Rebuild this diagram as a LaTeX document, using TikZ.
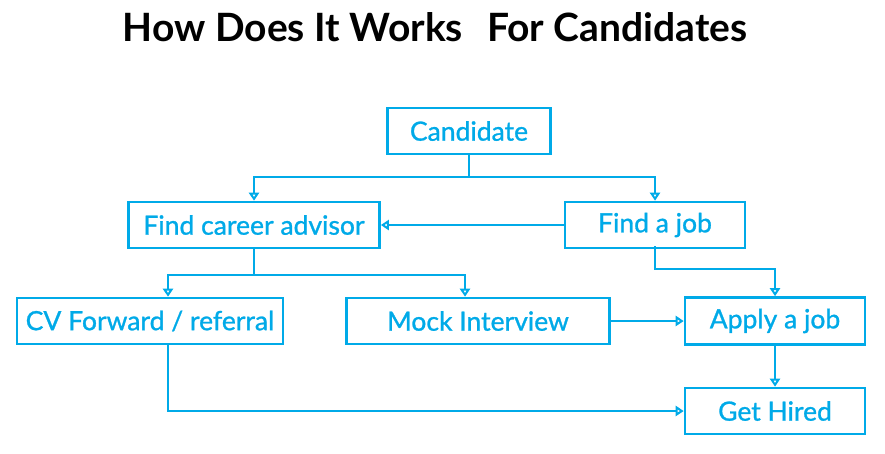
\documentclass[tikz,border=0pt]{standalone}
\usepackage{fontspec}
\setmainfont{Lato}
\newfontfamily\boxfont[FakeBold=1]{Lato}
\usetikzlibrary{arrows.meta}
\definecolor{hb}{RGB}{0,170,232}
\begin{document}
\begin{tikzpicture}[x=1pt,y=-1pt,
  box/.style={draw=hb, line width=2.6pt, text=hb, font=\boxfont\fontsize{26.5}{30}\selectfont, inner sep=0pt, minimum height=46pt, fill=white},
  conn/.style={draw=hb, line width=2pt, -{Triangle[open,length=8pt,width=10pt]}}]
\useasboundingbox[fill=white] (0,0) rectangle (885,453);
\node[font=\fontsize{39}{44}\selectfont\bfseries] (title) at (435,27) {How Does It Works\hspace{24pt}For Candidates};
\node[box, minimum width=163pt] (cand) at (469,131) {Candidate};
\node[box, minimum width=251pt] (fca) at (254,225) {Find career advisor};
\node[box, minimum width=180pt] (fj) at (655,225) {Find a job};
\node[box, minimum width=266pt] (cv) at (150,321) {CV Forward / referral};
\node[box, minimum width=263pt] (mock) at (478,321) {Mock Interview};
\node[box, minimum width=180pt, minimum height=47pt] (apply) at (775,321) {Apply a job};
\node[box, minimum width=180pt] (hired) at (775,411) {Get Hired};
\draw[conn] (cand.south) -- ++(0,22) -| (fca.north);
\draw[conn] (cand.south) -- ++(0,22) -| (fj.north);
\draw[conn] (fj.west) -- (fca.east);
\draw[conn] (fca.south) -- ++(0,26) -| ([xshift=18pt]cv.north);
\draw[conn] (fca.south) -- ++(0,26) -| ([xshift=-13pt]mock.north);
\draw[conn] ([yshift=3pt]fj.south) -- ++(0,23) -| (apply.north);
\draw[conn] (mock.east) -- (apply.west);
\draw[conn] (apply.south) -- (hired.north);
\draw[conn] ([xshift=18pt]cv.south) |- (hired.west);
\end{tikzpicture}
\end{document}
